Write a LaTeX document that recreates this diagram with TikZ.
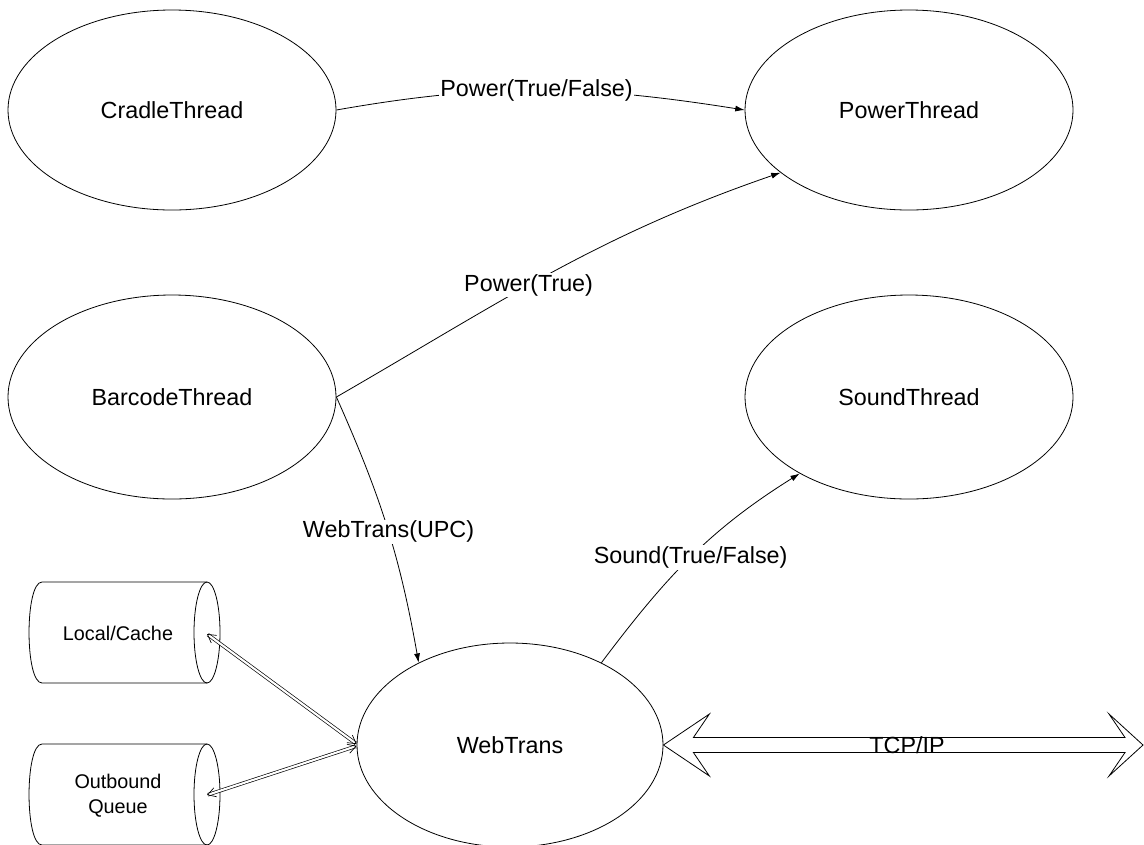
\documentclass[tikz,border=0pt]{standalone}
\usepackage{fontspec}
\setmainfont{Liberation Sans}
\usetikzlibrary{arrows.meta,shapes.geometric,calc}
\begin{document}
\begin{tikzpicture}[x=0.75pt,y=-0.75pt,
  thread/.style={ellipse,draw,line width=0.6pt,minimum width=246pt,minimum height=150pt,inner sep=0pt,font=\fontsize{17.5pt}{21pt}\selectfont},
  cyltext/.style={align=center,inner sep=0pt,font=\fontsize{14.85pt}{18.75pt}\selectfont},
  conn/.style={line width=0.6pt,-{Latex[length=7pt,width=4.5pt]}},
  lbl/.style={fill=white,inner sep=1pt,font=\fontsize{17.5pt}{21pt}\selectfont},
  dbl/.style={double,double distance=1.6pt,line width=0.5pt,{Straight Barb[length=6pt,width=7pt]}-{Straight Barb[length=6pt,width=7pt]}},
  cyl/.style={line width=0.6pt}]
\useasboundingbox (0,0) rectangle (1144,844);
\clip (0,0) rectangle (1144,844);

\node[thread] (cradle) at (172,110) {CradleThread};
\node[thread] (power) at (909,110) {PowerThread};
\node[thread,minimum height=153pt] (barcode) at (172,397) {BarcodeThread};
\node[thread,minimum height=153pt] (sound) at (909,397) {SoundThread};
\node[thread,minimum width=229.5pt,minimum height=153pt] (web) at (510,745) {WebTrans};

% cylinders
\draw[cyl] (42,582) -- (207,582) (42,683) -- (207,683)
  (42,582) .. controls (24.7,582) and (24.7,683) .. (42,683);
\draw[cyl] (207,632.5) ellipse [x radius=13, y radius=50.5];
\node[cyltext] (cache) at (118,633) {Local/Cache};
\coordinate (cacheport) at (207,634);

\draw[cyl] (42,744) -- (207,744) (42,845) -- (207,845)
  (42,744) .. controls (24.7,744) and (24.7,845) .. (42,845);
\draw[cyl] (207,794.5) ellipse [x radius=13, y radius=50.5];
\node[cyltext] (queue) at (118,795.5) {Outbound\\Queue};
\coordinate (queueport) at (207,795);

% connectors
\draw[conn] (cradle.east) to[out=10,in=171] node[lbl,pos=0.49]{Power(True/False)} (power.west);
\draw[conn] (barcode.east) to[out=30,in=199] node[lbl,pos=0.44]{Power(True)} (power.206.4);
\draw[conn] (barcode.east) to[out=-66,in=100] node[lbl,pos=0.52]{WebTrans(UPC)} (web.138);
\draw[conn] (web.42) to[out=53,in=212] node[lbl,pos=0.5]{Sound(True/False)} (sound.215.6);

\draw[dbl] (cacheport) -- ($(web.west)+(0,-1)$);
\draw[dbl] (queueport) -- ($(web.west)+(0,1)$);

% TCP/IP double arrow
\coordinate (tcpR) at (1143,745);
\draw[line width=0.6pt] (web.east) -- ++(46,-31) -- ++(-16,23.5)
  -- ($(tcpR)+(-18,-7.5)$) -- ++(-16,-23.5) -- (tcpR) -- ++(-34,31)
  -- ++(16,-23.5) -- ($(web.east)+(30,7.5)$) -- ++(16,23.5) -- cycle;
\node[font=\fontsize{17.5pt}{21pt}\selectfont] (tcp) at (907,745) {TCP/IP};
\end{tikzpicture}
\end{document}
